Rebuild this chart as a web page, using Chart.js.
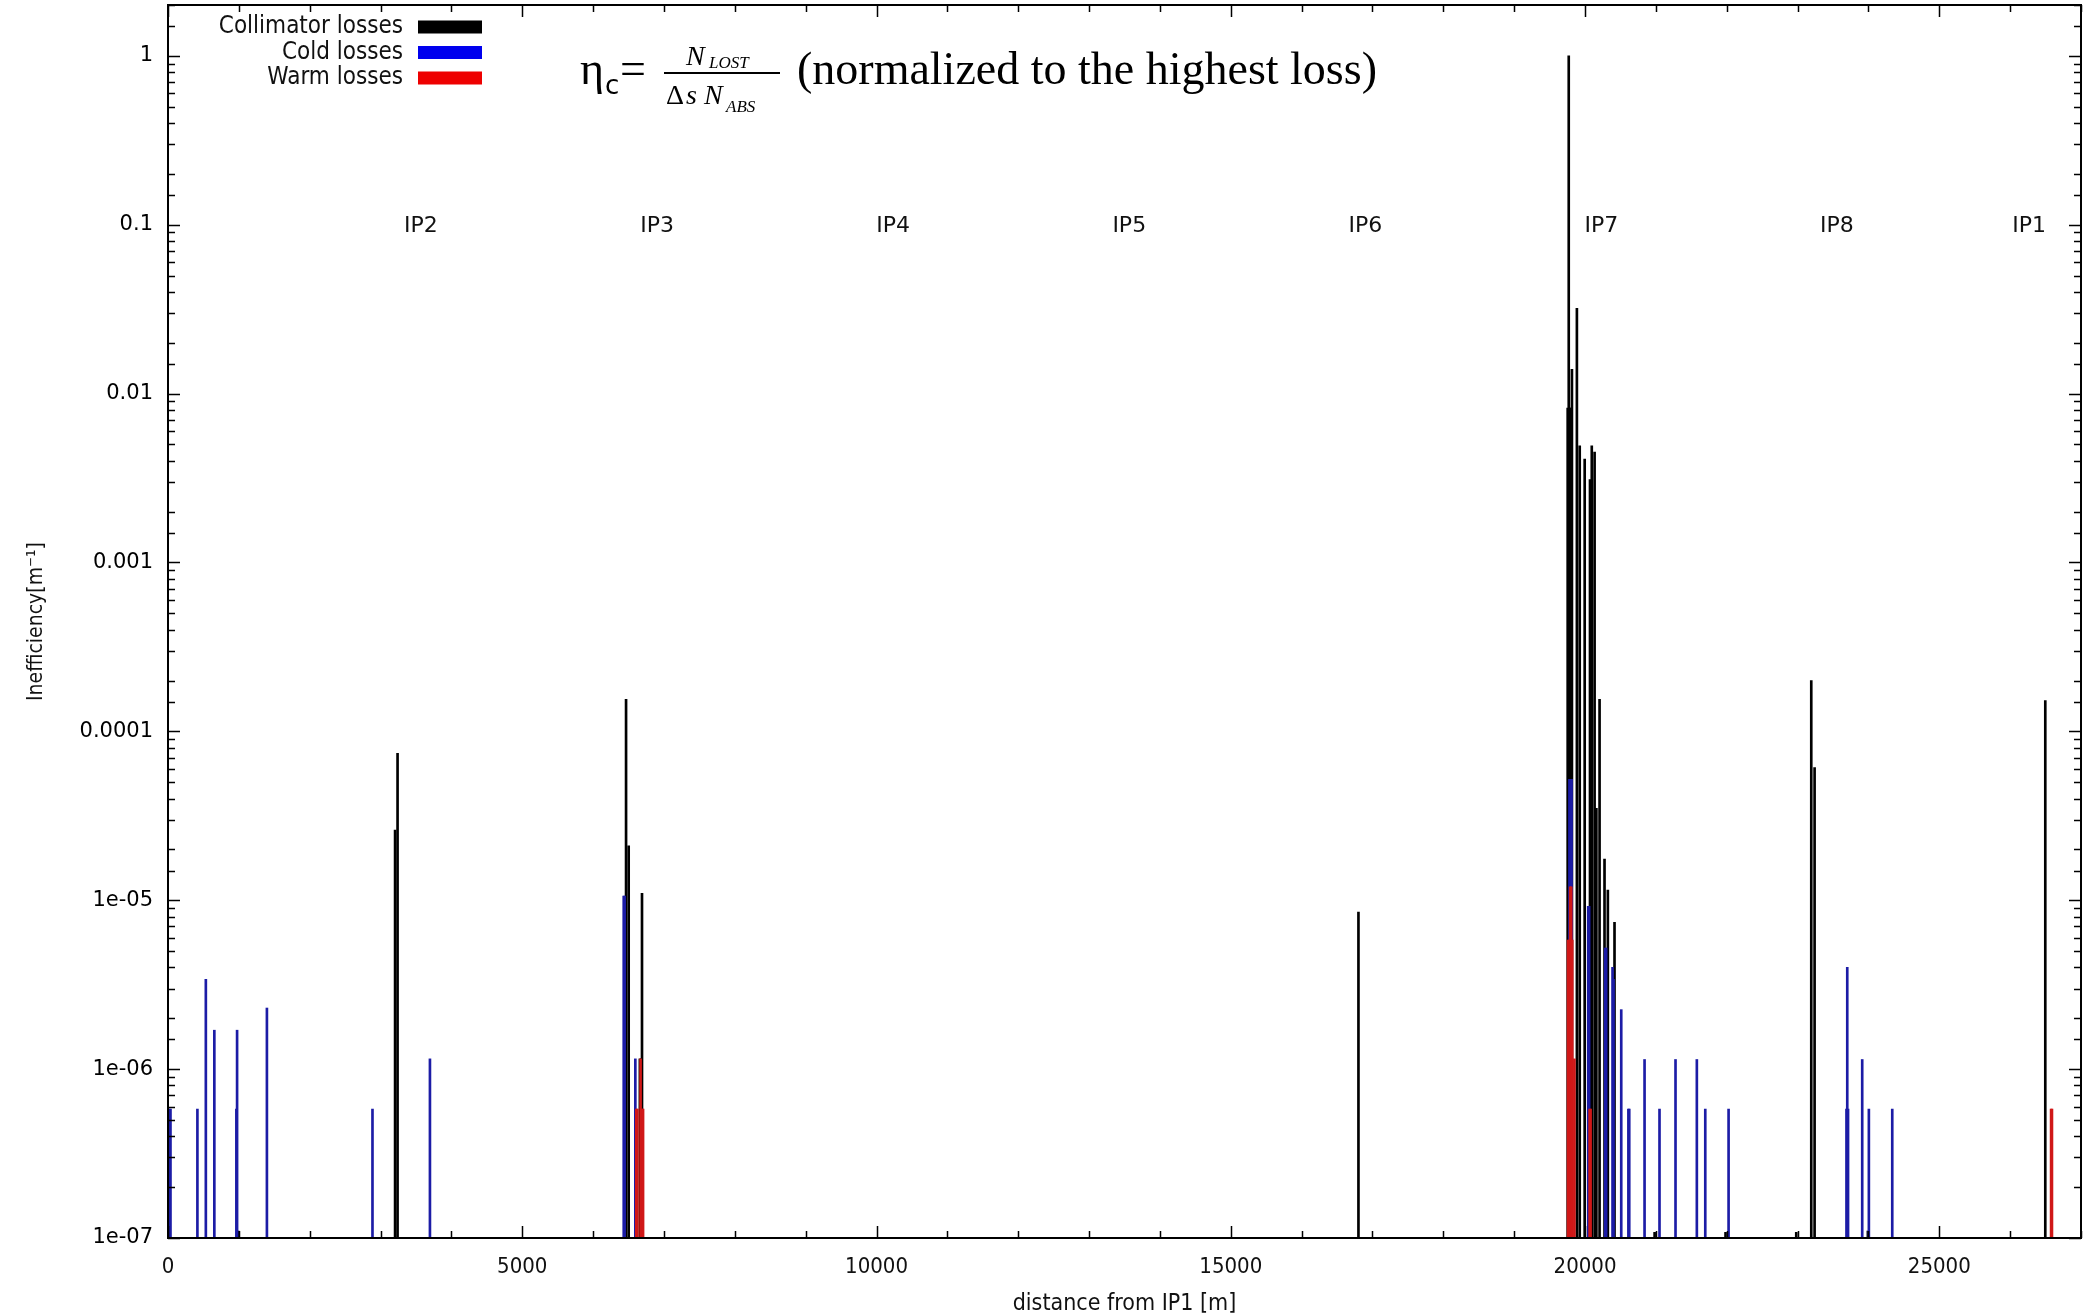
<!DOCTYPE html>
<html>
<head>
<meta charset="utf-8">
<title>Collimation inefficiency</title>
<script src="https://cdn.jsdelivr.net/npm/chart.js@4.4.1/dist/chart.umd.min.js"></script>
<style>
  html, body { margin: 0; padding: 0; background: #fff; }
  #wrap { width: 2083px; height: 1314px; }
</style>
</head>
<body>
<div id="wrap"><canvas id="lossChart"></canvas></div>
<script>
// loss locations (distance from IP1, m) and normalized inefficiency
const collPos = [990, 3205, 3240, 6465, 6502, 6660, 6680, 6690, 16802,
  19755, 19770, 19785, 19800, 19815, 19885, 19925, 19995, 20070, 20095, 20135,
  20160, 20205, 20275, 20322, 20416, 20982, 21983, 22981, 23193, 23240, 23992, 26496];
const collVal = [1.1e-7, 2.6e-5, 7.4e-5, 1.55e-4, 2.1e-5, 1.15e-6, 1.15e-6, 1.1e-5, 8.5e-6,
  8.2e-3, 1.0, 8.2e-3, 8.2e-3, 1.39e-2, 3.2e-2, 4.9e-3, 4.1e-3, 3.1e-3, 4.9e-3, 4.5e-3,
  3.5e-5, 1.55e-4, 1.75e-5, 1.15e-5, 7.4e-6, 1.08e-7, 1.08e-7, 1.08e-7, 2.0e-4, 6.1e-5, 1.1e-7, 1.52e-4];

const coldPos = [15, 35, 415, 534, 654, 965, 975, 1396, 2886, 3697, 6432, 6445, 6596,
  19780, 19795, 19810, 20045, 20058, 20285, 20298, 20388, 20402, 20511, 20612, 20624,
  20840, 21051, 21277, 21578, 21697, 22026, 23690, 23701, 23712, 23912, 24006, 24336];
const coldVal = [5.8e-7, 5.8e-7, 5.8e-7, 3.4e-6, 1.7e-6, 5.8e-7, 1.7e-6, 2.3e-6, 5.8e-7, 1.15e-6, 1.06e-5, 1.06e-5, 1.15e-6,
  5.2e-5, 5.2e-5, 5.2e-5, 9.2e-6, 9.2e-6, 5.2e-6, 5.2e-6, 4.0e-6, 3.4e-6, 2.25e-6, 5.8e-7, 5.8e-7,
  1.14e-6, 5.8e-7, 1.14e-6, 1.14e-6, 5.8e-7, 5.8e-7, 5.8e-7, 4.0e-6, 5.8e-7, 1.14e-6, 5.8e-7, 5.8e-7];

const warmPos = [6610, 6625, 6670, 6695, 6705, 19760, 19775, 19790, 19805, 19820, 19850, 20065, 20078, 26578, 26590];
const warmVal = [5.8e-7, 5.8e-7, 1.15e-6, 5.8e-7, 5.8e-7, 5.8e-6, 5.8e-6, 1.2e-5, 1.2e-5, 5.8e-6, 1.15e-6, 5.8e-7, 5.8e-7, 5.8e-7, 5.8e-7];

const seriesNames = ['Collimator losses', 'Cold losses', 'Warm losses'];

// interaction point markers
const ipNames = ['IP2', 'IP3', 'IP4', 'IP5', 'IP6', 'IP7', 'IP8', 'IP1'];
const ipPos = [3332, 6664, 9997, 13329, 16661, 19994, 23315, 26030];

const yTickValues = [1e-7, 1e-6, 1e-5, 1e-4, 1e-3, 1e-2, 1e-1, 1];
const yTickLabels = ['1e-07', '1e-06', '1e-05', '0.0001', '0.001', '0.01', '0.1', '1'];

function pairs(xs, ys) {
  return xs.map((x, i) => ({x: x, y: ys[i]}));
}

function decadeIndex(v) {
  const l = Math.log10(v);
  if (Math.abs(l - Math.round(l)) > 1e-6) return -1;
  return yTickValues.findIndex(t => Math.abs(Math.log10(t) - l) < 1e-6);
}

const condensed = '"DejaVu Sans Condensed", "Liberation Sans Narrow", "DejaVu Sans", sans-serif';
const swatchColors = ['#000000', '#0000ee', '#ee0000'];

const gnuplotLook = {
  id: 'gnuplotLook',
  afterDatasetsDraw(chart) {
    const {ctx, chartArea: a, scales: {x, y}} = chart;
    ctx.save();
    ctx.strokeStyle = '#000';
    ctx.lineWidth = 1.5;
    ctx.beginPath();
    x.ticks.forEach(t => {
      const px = Math.round(x.getPixelForValue(t.value)) + 0.5;
      const len = t.value % 5000 === 0 ? 12 : 7;
      ctx.moveTo(px, a.bottom); ctx.lineTo(px, a.bottom - len);
      ctx.moveTo(px, a.top); ctx.lineTo(px, a.top + len);
    });
    y.ticks.forEach(t => {
      const py = Math.round(y.getPixelForValue(t.value)) + 0.5;
      const len = decadeIndex(t.value) >= 0 ? 12 : 7;
      ctx.moveTo(a.left, py); ctx.lineTo(a.left + len, py);
      ctx.moveTo(a.right, py); ctx.lineTo(a.right - len, py);
    });
    ctx.stroke();
    ctx.lineWidth = 2;
    ctx.strokeRect(a.left, a.top, a.right - a.left, a.bottom - a.top);
    ctx.restore();
  },
  afterDraw(chart) {
    const {ctx, scales: {x, y}} = chart;
    ctx.save();

    // IP labels at the 0.1 level
    ctx.fillStyle = '#111';
    ctx.font = '22px "DejaVu Sans"';
    ctx.textAlign = 'left';
    ctx.textBaseline = 'middle';
    const ipY = y.getPixelForValue(0.1) + 2;
    ipNames.forEach((n, i) => ctx.fillText(n, x.getPixelForValue(ipPos[i]), ipY));

    // legend: text right-aligned, colour box on the right
    ctx.font = '24px ' + condensed;
    ctx.textAlign = 'right';
    chart.data.datasets.forEach((ds, i) => {
      const cy = 27 + i * 25.5;
      ctx.fillStyle = '#111';
      ctx.fillText(ds.label, 403, cy);
      ctx.fillStyle = swatchColors[i];
      ctx.fillRect(418, cy - 6.5, 64, 13);
    });

    // formula
    ctx.fillStyle = '#000';
    ctx.textAlign = 'left';
    ctx.textBaseline = 'alphabetic';
    const serif = '"Liberation Serif", "DejaVu Serif", serif';
    ctx.font = '46px ' + serif;
    ctx.fillText('η', 580, 84);
    ctx.font = '26px "DejaVu Sans"';
    ctx.fillText('c', 605, 94);
    ctx.font = '46px ' + serif;
    ctx.fillText('=', 620, 84);
    ctx.font = 'italic 28px ' + serif;
    ctx.fillText('N', 686, 65);
    ctx.font = 'italic 17px ' + serif;
    ctx.fillText('LOST', 709, 68);
    ctx.fillRect(664, 72, 116, 2);
    ctx.font = '28px ' + serif;
    ctx.fillText('Δ', 666, 104);
    ctx.font = 'italic 28px ' + serif;
    ctx.fillText('s', 686, 104);
    ctx.fillText('N', 704, 104);
    ctx.font = 'italic 17px ' + serif;
    ctx.fillText('ABS', 726, 112);
    ctx.font = '46px ' + serif;
    ctx.fillText('(normalized to the highest loss)', 797, 84);
    ctx.restore();
  }
};

const ctx = document.getElementById('lossChart').getContext('2d');
new Chart(ctx, {
  type: 'bar',
  data: {
    datasets: [
      { label: seriesNames[0], data: pairs(collPos, collVal), backgroundColor: '#000000', order: 3 },
      { label: seriesNames[1], data: pairs(coldPos, coldVal), backgroundColor: '#1c1ca6', order: 2 },
      { label: seriesNames[2], data: pairs(warmPos, warmVal), backgroundColor: '#d01818', order: 1 }
    ]
  },
  options: {
    responsive: true,
    maintainAspectRatio: false,
    animation: false,
    grouped: false,
    barThickness: 2,
    borderWidth: 0,
    layout: { padding: { top: 5, right: 2, left: 0, bottom: 0 } },
    plugins: { legend: { display: false }, tooltip: { enabled: false } },
    scales: {
      x: {
        type: 'linear',
        offset: false,
        min: 0,
        max: 27000,
        grid: { display: false, drawTicks: false, offset: false },
        border: { display: false },
        ticks: {
          stepSize: 1000,
          autoSkip: false,
          maxRotation: 0,
          padding: 16,
          color: '#111',
          font: { family: condensed, size: 22 },
          callback: v => (v % 5000 === 0 ? String(v) : '')
        },
        title: {
          display: true,
          text: 'distance from IP1 [m]',
          color: '#111',
          font: { family: condensed, size: 23, lineHeight: 0.9 },
          padding: { top: 0, bottom: 0 }
        },
        afterFit: s => { s.height = 76; s.paddingLeft = 0; s.paddingRight = 0; }
      },
      y: {
        type: 'logarithmic',
        min: 1e-7,
        max: 2,
        grid: { display: false, drawTicks: false },
        border: { display: false },
        ticks: {
          autoSkip: false,
          padding: 15,
          color: '#000',
          font: { family: '"DejaVu Sans"', size: 21 },
          callback: v => {
            const i = decadeIndex(v);
            return i >= 0 ? yTickLabels[i] : '';
          }
        },
        title: {
          display: true,
          text: 'Inefficiency[m⁻¹]',
          color: '#111',
          font: { family: condensed, size: 21 },
          padding: { top: 24, bottom: 0 }
        },
        afterFit: s => { s.width = 168; s.paddingTop = 0; s.paddingBottom = 0; }
      }
    }
  },
  plugins: [gnuplotLook]
});
</script>
</body>
</html>
